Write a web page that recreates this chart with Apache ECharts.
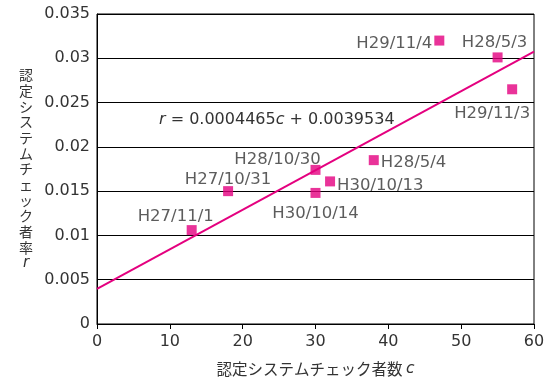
<!DOCTYPE html>
<html><head><meta charset="utf-8">
<script src="https://cdn.jsdelivr.net/npm/echarts@6/dist/echarts.min.js"></script>
<style>html,body{margin:0;padding:0;background:#fff}#c{width:555px;height:380px}</style>
</head><body><div id="c"></div>
<script>
const labels = ['H27/11/1','H27/10/31','H28/10/30','H30/10/14','H30/10/13','H28/5/4','H29/11/4','H28/5/3','H29/11/3'];
const checkers = [13, 18, 30, 30, 32, 38, 47, 55, 57];
const rates = [0.0106, 0.0150, 0.0174, 0.0148, 0.0161, 0.0185, 0.0320, 0.0301, 0.0265];
const labelPos = ['top','top','top','bottom','right','right','left','top','bottom'];
const labelShift = [[-16,2],[0,4],[-38,5],[0,6],[0,4],[0,3],[0,3],[-3,1],[-20,9]];
const slope = 0.0004465, intercept = 0.0039534;
const xRange = [0, 60];
const yTicks = ['0','0.005','0.01','0.015','0.02','0.025','0.03','0.035'];

const LAT = '"DejaVu Sans", "Noto Sans CJK JP", sans-serif';
const CJK = '"Noto Sans CJK JP", "DejaVu Sans", sans-serif';
const MAG = '#e4007f';
const TXT = '#333';

const pts = checkers.map((c,i)=>({
  value:[c, rates[i]],
  label:{show:true, formatter:labels[i], position:labelPos[i], offset:labelShift[i]}
}));
const lineData = xRange.map(x=>[x, intercept + slope*x]);

const yName = '認定システムチェック者率'.split('').map(ch=>'{a|'+ch+'}').join('\n') + '\n{i|r}';

const chart = echarts.init(document.getElementById('c'));
chart.setOption({
  animation:false,
  textStyle:{fontFamily:LAT},
  grid:{left:97, right:21, top:14, bottom:56, show:true, borderColor:'#000', borderWidth:1,
        containLabel:false, outerBoundsMode:'none'},
  xAxis:{type:'value', min:0, max:60, interval:10,
    axisLine:{lineStyle:{color:'#000', width:1}},
    axisTick:{show:true, length:5, lineStyle:{color:'#000'}},
    axisLabel:{color:TXT, fontSize:16, margin:10, fontFamily:LAT},
    splitLine:{show:false},
    name:'{a|認定システムチェック者数 }{i|c}', nameLocation:'middle', nameGap:37,
    nameTextStyle:{rich:{a:{fontSize:15.5, color:TXT, fontFamily:CJK}, i:{fontSize:15.5, fontStyle:'italic', color:TXT, fontFamily:LAT}}}
  },
  yAxis:{type:'value', min:0, max:0.035, interval:0.005,
    axisLine:{show:true, lineStyle:{color:'#000', width:1}},
    axisTick:{show:false},
    axisLabel:{color:TXT, fontSize:16, margin:7, fontFamily:LAT, formatter:(v,i)=>yTicks[i]},
    splitLine:{show:true, lineStyle:{color:'#000', width:1}},
    name:yName, nameLocation:'middle', nameGap:71, nameRotate:0,
    nameTextStyle:{align:'center', rich:{a:{fontSize:14, lineHeight:15.7, color:TXT, fontFamily:CJK}, i:{fontSize:15, lineHeight:15.7, fontStyle:'italic', color:TXT, fontFamily:LAT}}}
  },
  graphic:[{type:'text', left:159, top:112, style:{
    text:'{i|r} = 0.0004465{i|c} + 0.0039534',
    rich:{i:{fontStyle:'italic', fontSize:16, fill:TXT, fontFamily:LAT}},
    fontSize:16, fill:TXT, fontFamily:LAT}}],
  series:[
    {type:'line', data:lineData, symbol:'none', lineStyle:{color:MAG, width:2}, z:2, silent:true},
    {type:'scatter', data:pts, symbol:'rect', symbolSize:10, itemStyle:{color:MAG}, z:3,
      label:{color:TXT, fontSize:16.5, fontFamily:LAT, distance:2}}
  ]
});
</script></body></html>
